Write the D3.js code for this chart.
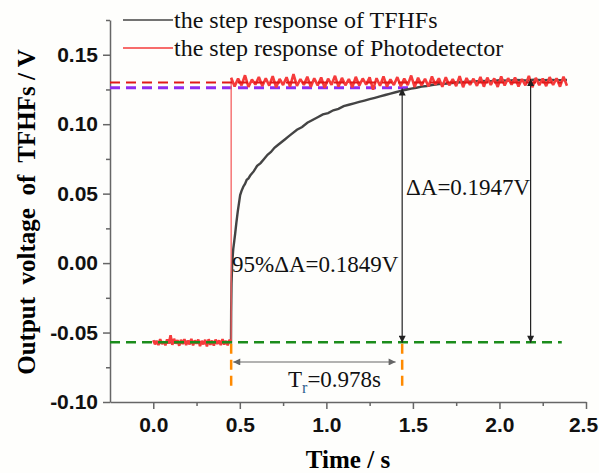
<!DOCTYPE html>
<html>
<head>
<meta charset="utf-8">
<script src="https://cdn.jsdelivr.net/npm/d3@7"></script>
<style>
  body { margin: 0; background: #fefefc; }
  svg { font-family: "Liberation Serif", "Times New Roman", serif; }
  .tick text { font-size: 21px; font-weight: bold; fill: #111; }
  .axis path, .axis line { stroke: #666; stroke-width: 1.5; }
</style>
</head>
<body>
<div id="chart"></div>
<script>
// ---------- data ----------
// TFHFs (black) response
var blackT = [0.00,0.05,0.10,0.15,0.20,0.25,0.30,0.35,0.40,0.449,
  0.450,0.452,0.456,0.462,0.468,0.473,0.480,0.488,0.495,0.502,
  0.51,0.52,0.53,0.54,0.55,0.56,0.58,0.60,0.62,0.64,
  0.66,0.68,0.70,0.72,0.74,0.76,0.78,0.80,0.83,0.86,
  0.89,0.92,0.95,0.98,1.01,1.04,1.07,1.10,1.13,1.16,
  1.19,1.22,1.25,1.28,1.31,1.34,1.37,1.40,1.43,1.46,
  1.49,1.52,1.55,1.58,1.61,1.65,1.70,1.75,1.80,1.85,
  1.90,1.95,2.00,2.05,2.10,2.15,2.20,2.25,2.30,2.35,2.39];
var blackV = [-0.0565,-0.0572,-0.0568,-0.0575,-0.0566,-0.0571,-0.0569,-0.0574,-0.0567,-0.0570,
  -0.035,-0.015,0.000,0.010,0.016,0.021,0.029,0.037,0.043,0.049,
  0.052,0.055,0.057,0.060,0.061,0.063,0.066,0.070,0.072,0.075,
  0.078,0.080,0.083,0.085,0.087,0.089,0.091,0.093,0.096,0.098,
  0.101,0.103,0.105,0.107,0.108,0.110,0.111,0.113,0.114,0.115,
  0.116,0.117,0.118,0.119,0.120,0.121,0.122,0.123,0.124,0.1248,
  0.1256,0.1262,0.1270,0.1275,0.1282,0.1288,0.1293,0.1300,0.1304,0.1308,
  0.1312,0.1310,0.1316,0.1313,0.1318,0.1314,0.1320,0.1316,0.1319,0.1317,0.1318];

// Photodetector (red) response, before the step
var redLowT = [0.00,0.01,0.02,0.03,0.04,0.05,0.06,0.07,0.08,0.09,
  0.10,0.11,0.12,0.13,0.14,0.15,0.16,0.17,0.18,0.19,
  0.20,0.21,0.22,0.23,0.24,0.25,0.26,0.27,0.28,0.29,
  0.30,0.31,0.32,0.33,0.34,0.35,0.36,0.37,0.38,0.39,
  0.40,0.41,0.42,0.43,0.44,0.45];
var redLowV = [-0.0555,-0.0585,-0.0560,-0.0590,-0.0548,-0.0582,-0.0565,-0.0592,-0.0550,-0.0578,
  -0.0520,-0.0588,-0.0545,-0.0580,-0.0555,-0.0595,-0.0552,-0.0583,-0.0548,-0.0590,
  -0.0558,-0.0585,-0.0546,-0.0592,-0.0556,-0.0580,-0.0550,-0.0598,-0.0560,-0.0585,
  -0.0552,-0.0600,-0.0548,-0.0588,-0.0558,-0.0594,-0.0550,-0.0582,-0.0556,-0.0590,
  -0.0548,-0.0586,-0.0560,-0.0592,-0.0552,-0.0570];

// Photodetector (red) response, after the step
var redHighT = [0.45,0.47,0.49,0.51,0.53,0.55,0.57,0.59,0.61,0.63,
  0.65,0.67,0.69,0.71,0.73,0.75,0.77,0.79,0.81,0.83,
  0.85,0.87,0.89,0.91,0.93,0.95,0.97,0.99,1.01,1.03,
  1.05,1.07,1.09,1.11,1.13,1.15,1.17,1.19,1.21,1.23,
  1.25,1.27,1.29,1.31,1.33,1.35,1.37,1.39,1.41,1.43,
  1.45,1.47,1.49,1.51,1.53,1.55,1.57,1.59,1.61,1.63,
  1.65,1.67,1.69,1.71,1.73,1.75,1.77,1.79,1.81,1.83,
  1.85,1.87,1.89,1.91,1.93,1.95,1.97,1.99,2.01,2.03,
  2.05,2.07,2.09,2.11,2.13,2.15,2.17,2.19,2.21,2.23,
  2.25,2.27,2.29,2.31,2.33,2.35,2.37,2.39];
var redHighV = [0.1335,0.1272,0.1328,0.1280,0.1352,0.1268,0.1322,0.1285,0.1340,0.1275,
  0.1330,0.1278,0.1345,0.1265,0.1326,0.1282,0.1338,0.1270,0.1360,0.1276,
  0.1324,0.1283,0.1342,0.1268,0.1330,0.1279,0.1336,0.1262,0.1327,0.1284,
  0.1348,0.1271,0.1333,0.1280,0.1325,0.1266,0.1341,0.1278,0.1329,0.1285,
  0.1337,0.1248,0.1331,0.1277,0.1344,0.1270,0.1323,0.1282,0.1339,0.1273,
  0.1328,0.1281,0.1350,0.1267,0.1334,0.1279,0.1326,0.1272,0.1343,0.1284,
  0.1330,0.1269,0.1338,0.1280,0.1324,0.1274,0.1346,0.1266,0.1332,0.1283,
  0.1327,0.1276,0.1340,0.1270,0.1335,0.1282,0.1329,0.1268,0.1344,0.1278,
  0.1331,0.1285,0.1336,0.1271,0.1325,0.1279,0.1348,0.1266,0.1333,0.1281,
  0.1328,0.1274,0.1339,0.1283,0.1330,0.1270,0.1342,0.1277];

// reference levels and times
var levelHigh = 0.130;      // final level (red dashed)
var level95 = 0.1262;       // 95% level (purple dashed)
var levelLow = -0.057;      // initial level (green dashed)
var tStep = 0.45;           // step time
var t95 = 1.438;            // time where TFHFs reach 95%
var tDelta = 2.18;          // where deltaA is measured
var tLineEnd = 2.36;        // end of the dashed level lines
var t95LineEnd = 1.50;

var xTicks = [0.0, 0.5, 1.0, 1.5, 2.0, 2.5];
var xMinor = [0.25, 0.75, 1.25, 1.75, 2.25];
var yTicks = [-0.10, -0.05, 0.00, 0.05, 0.10, 0.15];
var yMinor = [-0.075, -0.025, 0.025, 0.075, 0.125, 0.175];

var legendLabels = ["the step response of TFHFs", "the step response of Photodetector"];

// ---------- chart area ----------
var svgWidth = 599, svgHeight = 473;

var svg = d3.select("#chart").append("svg")
  .attr("width", svgWidth)
  .attr("height", svgHeight);

var x = d3.scaleLinear().domain([-0.25, 2.5]).range([110, 586]);
var y = d3.scaleLinear().domain([-0.10, 0.175]).range([402, 20]);

// arrow heads
var defs = svg.append("defs");
[["arrBlack", "#222"], ["arrGray", "#666"]].forEach(function(m) {
  defs.append("marker")
    .attr("id", m[0])
    .attr("viewBox", "0 0 10 10")
    .attr("refX", 10).attr("refY", 5)
    .attr("markerWidth", 9).attr("markerHeight", 7)
    .attr("markerUnits", "userSpaceOnUse")
    .attr("orient", "auto-start-reverse")
    .append("path")
    .attr("d", "M0,0 L10,5 L0,10 z")
    .attr("fill", m[1]);
});

// ---------- axes ----------
var fmtY = function(d) { return d.toFixed(2); };
var fmtX = function(d) { return d.toFixed(1); };

svg.append("g").attr("class", "axis")
  .attr("transform", "translate(110,0)")
  .call(d3.axisLeft(y).tickValues(yTicks).tickFormat(fmtY).tickSize(7).tickSizeOuter(0).tickPadding(5));
svg.append("g").attr("class", "axis")
  .attr("transform", "translate(110,0)")
  .call(d3.axisLeft(y).tickValues(yMinor).tickFormat("").tickSize(4).tickSizeOuter(0))
  .select(".domain").remove();

var xAxisG = svg.append("g").attr("class", "axis")
  .attr("transform", "translate(0,402)")
  .call(d3.axisBottom(x).tickValues(xTicks).tickFormat(fmtX).tickSize(7).tickSizeOuter(0).tickPadding(8));
// the last label sits at the very edge of the page; nudge it inside
xAxisG.selectAll(".tick text").filter(function(d) { return d === 2.5; }).attr("dx", -3);
svg.append("g").attr("class", "axis")
  .attr("transform", "translate(0,402)")
  .call(d3.axisBottom(x).tickValues(xMinor).tickFormat("").tickSize(4).tickSizeOuter(0))
  .select(".domain").remove();

// axis titles
svg.append("text")
  .attr("x", 348).attr("y", 468)
  .attr("text-anchor", "middle")
  .attr("font-size", "25px").attr("font-weight", "bold")
  .text("Time / s");

svg.append("text")
  .attr("transform", "translate(35,212) rotate(-90)")
  .attr("text-anchor", "middle")
  .attr("font-size", "25px").attr("font-weight", "bold")
  .style("white-space", "pre")
  .text("Output  voltage  of  TFHFs / V");

// ---------- lines ----------
var line = d3.line().x(function(d) { return x(d[0]); }).y(function(d) { return y(d[1]); });
var zipPts = function(ts, vs) { return ts.map(function(t, i) { return [t, vs[i]]; }); };

// purple 95% level
svg.append("path")
  .attr("d", line([[-0.25, level95], [t95LineEnd, level95]]))
  .attr("stroke", "#8f2cf0").attr("stroke-width", 3)
  .attr("stroke-dasharray", "10,6").attr("fill", "none");

// TFHFs curve
svg.append("path")
  .attr("d", line(zipPts(blackT, blackV)))
  .attr("stroke", "#444").attr("stroke-width", 2.4).attr("fill", "none");

// Photodetector curve: thin step edge, thick noisy plateaus
svg.append("path")
  .attr("d", line([[tStep, redLowV[redLowV.length - 1]], [tStep, redHighV[0]]]))
  .attr("stroke", "#f46060").attr("stroke-width", 1.3).attr("fill", "none");
[zipPts(redLowT, redLowV), zipPts(redHighT, redHighV)].forEach(function(pts) {
  svg.append("path")
    .attr("d", line(pts))
    .attr("stroke", "#f53b3b").attr("stroke-width", 2.6).attr("fill", "none")
    .attr("stroke-linejoin", "bevel");
});

// red final level
svg.append("path")
  .attr("d", line([[-0.25, levelHigh], [tLineEnd, levelHigh]]))
  .attr("stroke", "#e01818").attr("stroke-width", 2)
  .attr("stroke-dasharray", "10,6").attr("fill", "none");

// green initial level
svg.append("path")
  .attr("d", line([[-0.25, levelLow], [tLineEnd, levelLow]]))
  .attr("stroke", "#1b8c1b").attr("stroke-width", 2.5)
  .attr("stroke-dasharray", "10,6").attr("fill", "none");

// orange time markers
[tStep, t95].forEach(function(t) {
  svg.append("path")
    .attr("d", line([[t, -0.058], [t, -0.0915]]))
    .attr("stroke", "#ff8a00").attr("stroke-width", 2.5)
    .attr("stroke-dasharray", "10,6").attr("fill", "none");
});

// ---------- annotations ----------
// 95% delta arrow
svg.append("path")
  .attr("d", line([[t95, level95 - 0.0005], [t95, levelLow - 0.0003]]))
  .attr("stroke", "#222").attr("stroke-width", 1.2).attr("fill", "none")
  .attr("marker-start", "url(#arrBlack)").attr("marker-end", "url(#arrBlack)");

// full delta arrow
svg.append("path")
  .attr("d", line([[tDelta, 0.1325], [tDelta, levelLow - 0.0003]]))
  .attr("stroke", "#222").attr("stroke-width", 1.2).attr("fill", "none")
  .attr("marker-start", "url(#arrBlack)").attr("marker-end", "url(#arrBlack)");

// rise time arrow
svg.append("path")
  .attr("d", line([[0.462, -0.0712], [1.40, -0.0712]]))
  .attr("stroke", "#666").attr("stroke-width", 1.2).attr("fill", "none")
  .attr("marker-start", "url(#arrGray)").attr("marker-end", "url(#arrGray)");

svg.append("text")
  .attr("x", 232).attr("y", 272)
  .attr("font-size", "23px").attr("fill", "#111")
  .text("95%\u0394A=0.1849V");

svg.append("text")
  .attr("x", 406).attr("y", 195)
  .attr("font-size", "23px").attr("fill", "#111")
  .text("\u0394A=0.1947V");

var tr = svg.append("text")
  .attr("x", 288).attr("y", 387)
  .attr("font-size", "23px").attr("fill", "#111");
tr.append("tspan").text("T");
tr.append("tspan").attr("dy", 6).attr("font-size", "16px").attr("fill", "#2f5f8f").text("r");
tr.append("tspan").attr("dy", -6).text("=0.978s");

// ---------- legend ----------
var legendColors = ["#444", "#f53b3b"];
legendLabels.forEach(function(lbl, i) {
  var ly = 20 + i * 28;
  svg.append("line")
    .attr("x1", 123).attr("x2", 173).attr("y1", ly).attr("y2", ly)
    .attr("stroke", legendColors[i]).attr("stroke-width", 1.5);
  svg.append("text")
    .attr("x", 174).attr("y", ly + 8)
    .attr("font-size", "24px").attr("fill", "#111")
    .text(lbl);
});
</script>
</body>
</html>
